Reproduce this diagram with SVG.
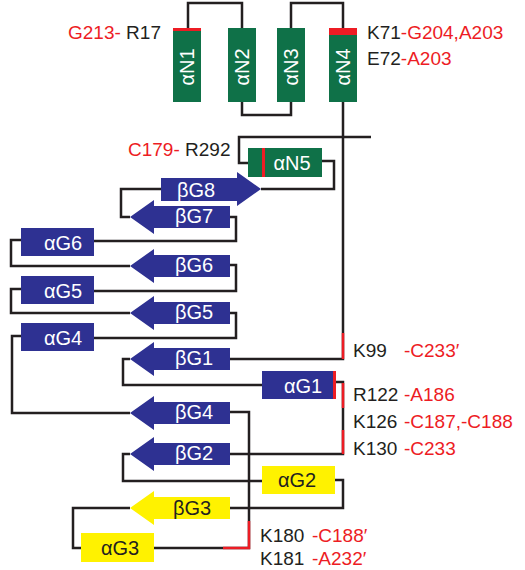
<svg xmlns="http://www.w3.org/2000/svg" width="525" height="570" viewBox="0 0 525 570">
<style>
.ln{fill:none;stroke:#231f20;stroke-width:2.5}
.rd{fill:none;stroke:#ed1c24;stroke-width:2.5}
.gr{fill:#0f7148}
.bl{fill:#2e3192}
.ye{fill:#fff200}
.lb{font-family:"Liberation Sans",Arial,sans-serif;font-size:19px;fill:#231f20}
.r{fill:#ed1c24}
.bt{font-family:"Liberation Sans",Arial,sans-serif;font-size:20px;fill:#ffffff;text-anchor:middle}
.bk{fill:#231f20}
</style>
<g id="connectors">
<path class="ln" d="M188,28 V3 H242 V28"/>
<path class="ln" d="M242,102 V115 H291 V102"/>
<path class="ln" d="M291,28 V3 H343 V28"/>
<path class="ln" d="M343,102 V359 H230"/>
<path class="rd" d="M343,333 V359"/>
<path class="ln" d="M371,137 H239 V163 H248"/>
<path class="ln" d="M322,161 H334 V189 H261"/>
<path class="ln" d="M161,189 H121 V217 H130"/>
<path class="ln" d="M230,217 H236 V241 H94"/>
<path class="ln" d="M21,240 H11 V266 H130"/>
<path class="ln" d="M230,265 H236 V291 H94"/>
<path class="ln" d="M21,289 H11 V313 H130"/>
<path class="ln" d="M230,313 H236 V338 H94"/>
<path class="ln" d="M21,336 H12 V413 H130"/>
<path class="ln" d="M130,359 H123 V385 H262"/>
<path class="ln" d="M336,382 H343 V454 H230"/>
<path class="rd" d="M343,383 V408 M343,430 V454"/>
<path class="ln" d="M230,412 H249 V548 H154"/>
<path class="rd" d="M249,521 V548 H223"/>
<path class="ln" d="M130,454 H123 V481 H262"/>
<path class="ln" d="M335,480 H343 V508 H230"/>
<path class="ln" d="M130,508 H73 V548 H81"/>
</g>
<g id="aN1">
<rect class="gr" x="173" y="28" width="28" height="74"/>
<rect class="r" x="173" y="28" width="28" height="3"/>
<text class="bt" transform="translate(187,67) rotate(-90)" y="7">αN1</text>
</g>
<g id="aN2">
<rect class="gr" x="228" y="28" width="28" height="74"/>
<text class="bt" transform="translate(242,67) rotate(-90)" y="7">αN2</text>
</g>
<g id="aN3">
<rect class="gr" x="277" y="28" width="28" height="74"/>
<text class="bt" transform="translate(291,67) rotate(-90)" y="7">αN3</text>
</g>
<g id="aN4">
<rect class="gr" x="329" y="28" width="28" height="74"/>
<rect class="r" x="329" y="28" width="28" height="7"/>
<text class="bt" transform="translate(343,67) rotate(-90)" y="7">αN4</text>
</g>
<g id="aN5">
<rect class="gr" x="248" y="148" width="74" height="29"/>
<rect class="r" x="262" y="148" width="3" height="29"/>
<text class="bt" x="292" y="170">αN5</text>
</g>
<g id="bG8">
<polygon class="bl" points="161,178 237,178 237,172 261,189 237,206 237,201 161,201"/>
<text class="bt" x="196" y="197">βG8</text>
</g>
<g id="bG7">
<polygon class="bl" points="130,217 154,200 154,206 230,206 230,228 154,228 154,234"/>
<text class="bt" x="194" y="223">βG7</text>
</g>
<g id="aG6">
<rect class="bl" x="21" y="228" width="73" height="28"/>
<text class="bt" x="63" y="250">αG6</text>
</g>
<g id="bG6">
<polygon class="bl" points="130,266 154,249 154,255 230,255 230,277 154,277 154,283"/>
<text class="bt" x="194" y="272">βG6</text>
</g>
<g id="aG5">
<rect class="bl" x="21" y="276" width="73" height="28"/>
<text class="bt" x="63" y="298">αG5</text>
</g>
<g id="bG5">
<polygon class="bl" points="130,313 154,296 154,302 230,302 230,324 154,324 154,330"/>
<text class="bt" x="194" y="319">βG5</text>
</g>
<g id="aG4">
<rect class="bl" x="21" y="323" width="73" height="28"/>
<text class="bt" x="63" y="345">αG4</text>
</g>
<g id="bG1">
<polygon class="bl" points="130,359 154,342 154,348 230,348 230,370 154,370 154,376"/>
<text class="bt" x="194" y="365">βG1</text>
</g>
<g id="aG1">
<rect class="bl" x="262" y="371" width="72" height="28"/>
<rect class="r" x="333" y="371" width="3" height="28"/>
<text class="bt" x="303" y="393">αG1</text>
</g>
<g id="bG4">
<polygon class="bl" points="130,413 154,396 154,402 230,402 230,424 154,424 154,430"/>
<text class="bt" x="194" y="419">βG4</text>
</g>
<g id="bG2">
<polygon class="bl" points="130,454 154,437 154,443 230,443 230,465 154,465 154,471"/>
<text class="bt" x="194" y="460">βG2</text>
</g>
<g id="aG2">
<rect class="ye" x="262" y="466" width="73" height="28"/>
<text class="bt bk" x="297" y="487">αG2</text>
</g>
<g id="bG3">
<polygon class="ye" points="130,508 154,491 154,497 230,497 230,519 154,519 154,525"/>
<text class="bt bk" x="192" y="515">βG3</text>
</g>
<g id="aG3">
<rect class="ye" x="81" y="533" width="73" height="29"/>
<text class="bt bk" x="120" y="555">αG3</text>
</g>
<g id="labels">
<text class="lb" x="68" y="39"><tspan class="r">G213-</tspan> R17</text>
<text class="lb" x="367" y="39">K71<tspan class="r">-G204,A203</tspan></text>
<text class="lb" x="367" y="65">E72<tspan class="r">-A203</tspan></text>
<text class="lb" x="128" y="156"><tspan class="r">C179-</tspan> R292</text>
<text class="lb" x="353" y="357">K99</text>
<text class="lb r" x="404" y="357">-C233′</text>
<text class="lb" x="353" y="401">R122</text>
<text class="lb r" x="404" y="401">-A186</text>
<text class="lb" x="353" y="428">K126</text>
<text class="lb r" x="404" y="428">-C187,-C188</text>
<text class="lb" x="353" y="455">K130</text>
<text class="lb r" x="404" y="455">-C233</text>
<text class="lb" x="260" y="542">K180</text>
<text class="lb r" x="312" y="542">-C188′</text>
<text class="lb" x="260" y="565">K181</text>
<text class="lb r" x="312" y="565">-A232′</text>
</g>
</svg>
